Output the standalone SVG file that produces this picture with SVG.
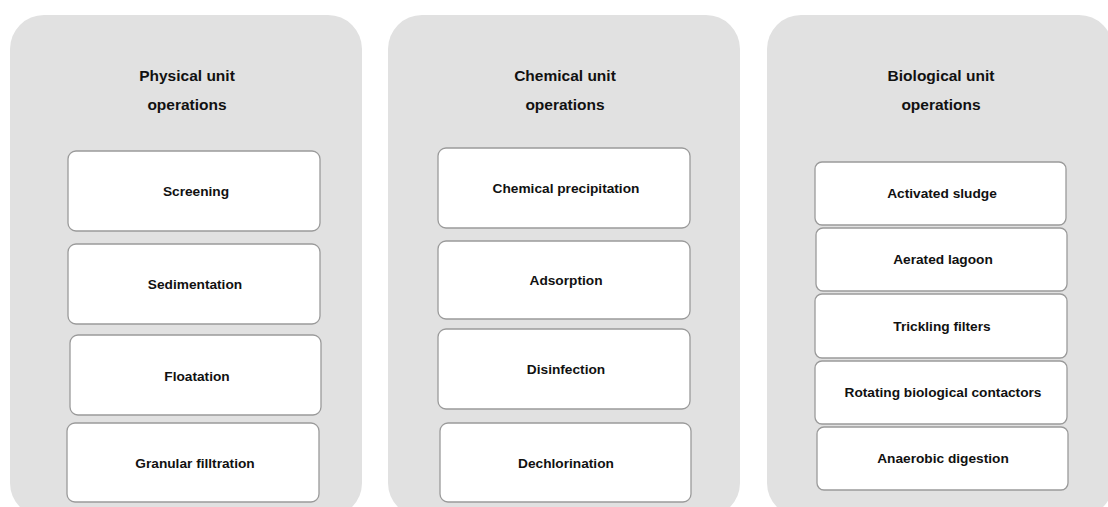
<svg xmlns="http://www.w3.org/2000/svg" width="1108" height="507" viewBox="0 0 1108 507">
<style>
.panel{fill:#e1e1e1;stroke:none}
.box{fill:#ffffff;stroke:#9a9a9a;stroke-width:1.3}
.title{font-family:"Liberation Sans",Arial,sans-serif;font-weight:bold;font-size:15.5px;fill:#111;text-anchor:middle}
.lbl{font-family:"Liberation Sans",Arial,sans-serif;font-weight:bold;font-size:13.7px;fill:#111;text-anchor:middle}
</style>
<rect width="1108" height="507" fill="#ffffff"/>
<g id="physical">
<rect class="panel" x="10" y="15" width="352" height="502" rx="34"/>
<text class="title" x="187" y="81">Physical unit</text>
<text class="title" x="187" y="110">operations</text>
</g>
<g id="chemical">
<rect class="panel" x="388" y="15" width="352" height="502" rx="34"/>
<text class="title" x="565" y="81">Chemical unit</text>
<text class="title" x="565" y="110">operations</text>
</g>
<g id="biological">
<rect class="panel" x="767" y="15" width="346" height="502" rx="34"/>
<text class="title" x="941" y="81">Biological  unit</text>
<text class="title" x="941" y="110">operations</text>
</g>
<g id="screening"><rect class="box" x="68" y="151" width="252" height="80" rx="8"/><text class="lbl" x="196" y="196">Screening</text></g>
<g id="sedimentation"><rect class="box" x="68" y="244" width="252" height="80" rx="8"/><text class="lbl" x="195" y="289">Sedimentation</text></g>
<g id="floatation"><rect class="box" x="70" y="335" width="251" height="80" rx="8"/><text class="lbl" x="197" y="381">Floatation</text></g>
<g id="granular"><rect class="box" x="67" y="423" width="252" height="79" rx="8"/><text class="lbl" x="195" y="468">Granular filltration</text></g>
<g id="precipitation"><rect class="box" x="438" y="148" width="252" height="80" rx="8"/><text class="lbl" x="566" y="193">Chemical precipitation</text></g>
<g id="adsorption"><rect class="box" x="438" y="241" width="252" height="78" rx="8"/><text class="lbl" x="566" y="285">Adsorption</text></g>
<g id="disinfection"><rect class="box" x="438" y="329" width="252" height="80" rx="8"/><text class="lbl" x="566" y="374">Disinfection</text></g>
<g id="dechlorination"><rect class="box" x="440" y="423" width="251" height="79" rx="8"/><text class="lbl" x="566" y="468">Dechlorination</text></g>
<g id="activated"><rect class="box" x="815" y="162" width="251" height="63" rx="7"/><text class="lbl" x="942" y="198">Activated sludge</text></g>
<g id="aerated"><rect class="box" x="816" y="228" width="251" height="63" rx="7"/><text class="lbl" x="943" y="264">Aerated lagoon</text></g>
<g id="trickling"><rect class="box" x="815" y="294" width="252" height="64" rx="7"/><text class="lbl" x="942" y="331">Trickling filters</text></g>
<g id="rotating"><rect class="box" x="815" y="361" width="252" height="63" rx="7"/><text class="lbl" x="943" y="397">Rotating biological contactors</text></g>
<g id="anaerobic"><rect class="box" x="817" y="427" width="251" height="63" rx="7"/><text class="lbl" x="943" y="463">Anaerobic digestion</text></g>
<g id="connectors"></g>
</svg>
